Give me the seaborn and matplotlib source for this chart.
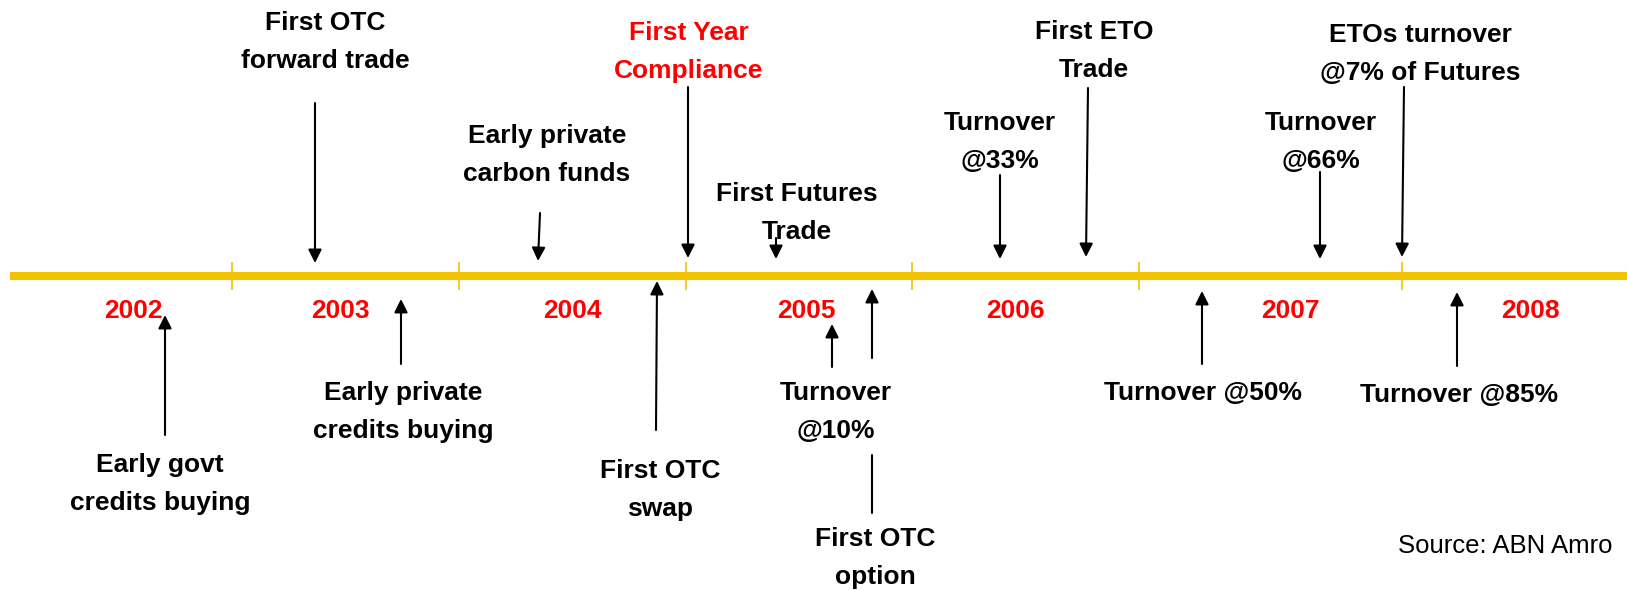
import matplotlib
matplotlib.use("Agg")
import matplotlib.pyplot as plt
import seaborn as sns
import pandas as pd

# canvas units are pixels of the 1627x590 picture, y grows downward
W, H = 1627, 590
LINE_Y = 276

# timeline
line_x = [10, 1627]
sep_x = [232, 459, 686, 912, 1139, 1402]

years = ["2002", "2003", "2004", "2005", "2006", "2007", "2008"]
year_x = [133, 340, 572, 806, 1015, 1290, 1530]
YEAR_Y = 311

# events above the line (arrows point down)
above_labels = ["First OTC\nforward trade", "Early private\ncarbon funds",
                "First Year\nCompliance", "First Futures\nTrade",
                "Turnover\n@33%", "First ETO\nTrade", "Turnover\n@66%",
                "ETOs turnover\n@7% of Futures"]
above_colors = ["black", "black", "red", "black", "black", "black", "black", "black"]
above_text_x = [325, 547, 689, 797, 1000, 1094, 1321, 1420]
above_text_y = [42, 155, 52, 213, 142, 51, 142, 54]
above_tail = [(315, 103), (540, 213), (688, 87), (776, 238), (1000, 175),
              (1088, 88), (1320, 172), (1404, 87)]
above_tip = [(315, 263), (538, 261), (688, 258), (776, 259), (1000, 259),
             (1086, 257), (1320, 259), (1402, 257)]

# events below the line (arrows point up)
below_labels = ["Early govt\ncredits buying", "Early private\ncredits buying",
                "First OTC\nswap", "Turnover\n@10%", "First OTC\noption",
                "Turnover @50%", "Turnover @85%"]
below_text_x = [160, 403, 660, 836, 875, 1203, 1459]
below_text_y = [484, 412, 490, 412, 558, 393, 395]
below_tail = [(165, 435), (401, 364), (656, 430), (832, 367), (872, 358),
              (1202, 364), (1457, 366)]
below_tip = [(165, 315), (401, 299), (657, 281), (832, 324), (872, 289),
             (1202, 291), (1457, 292)]
# stub of the "First OTC option" arrow below the "@10%" label
option_stub_y = [455, 513]
option_stub_x = 872

source = "Source: ABN Amro"

sns.set_theme(style="white")
plt.rcParams["font.family"] = ["Liberation Sans", "DejaVu Sans"]

fig = plt.figure(figsize=(W / 100, H / 100), dpi=100)
ax = fig.add_axes([0, 0, 1, 1])

GOLD = "#F2C200"
df_line = pd.DataFrame({"x": line_x, "y": [LINE_Y] * len(line_x)})
sns.lineplot(data=df_line, x="x", y="y", color=GOLD, lw=5.8, ax=ax,
             solid_capstyle="butt")
ax.vlines(sep_x, LINE_Y - 14, LINE_Y + 14, color=GOLD, lw=1.2)

for yr, x in zip(years, year_x):
    ax.text(x, YEAR_Y, yr, color="red", fontsize=19, fontweight="bold",
            ha="center", va="center")

arrow_kw = dict(arrowstyle="-|>", color="black", lw=1.5,
                mutation_scale=20, shrinkA=0, shrinkB=0)

for lab, col, tx, ty, tail, tip in zip(above_labels, above_colors, above_text_x,
                                       above_text_y, above_tail, above_tip):
    ax.text(tx, ty, lab, color=col, fontsize=19, fontweight="bold",
            ha="center", va="center", linespacing=1.76)
    ax.annotate("", xy=tip, xytext=tail, arrowprops=arrow_kw)

for lab, tx, ty, tail, tip in zip(below_labels, below_text_x, below_text_y,
                                  below_tail, below_tip):
    ax.text(tx, ty, lab, color="black", fontsize=19, fontweight="bold",
            ha="center", va="center", linespacing=1.76)
    ax.annotate("", xy=tip, xytext=tail, arrowprops=arrow_kw)

ax.plot([option_stub_x, option_stub_x], option_stub_y, color="black", lw=1.5)

ax.text(1613, 546, source, color="black", fontsize=18.5, ha="right", va="center")

ax.set_xlim(0, W)
ax.set_ylim(H, 0)
ax.axis("off")
if ax.get_legend():
    ax.get_legend().remove()

fig.savefig("out.png", dpi=100, facecolor="white")
